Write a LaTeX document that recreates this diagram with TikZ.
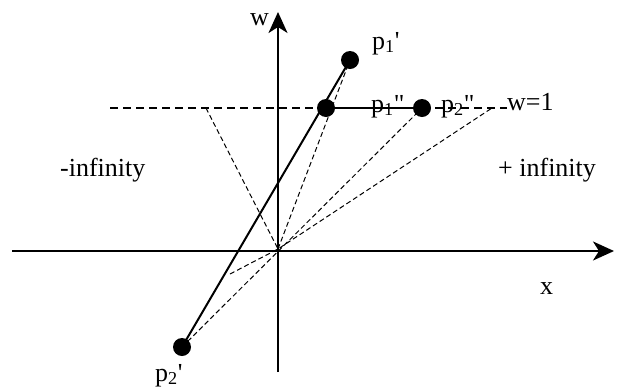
\documentclass[tikz,border=0pt]{standalone}
\usepackage{fontspec}
\setmainfont{Liberation Serif}
\usetikzlibrary{arrows.meta}
\begin{document}
\begin{tikzpicture}[x=1pt,y=-1pt,
  lbl/.style={inner sep=0pt, anchor=base west, font=\fontsize{26}{30}\selectfont},
  dot/.style={circle, fill=black, inner sep=0pt, minimum size=18pt},
  axis/.style={line width=2pt, -{Stealth[length=21pt,width=19pt,inset=6pt]}},
  proj/.style={line width=1pt, dash pattern=on 5pt off 3pt},
  wline/.style={line width=1.5pt, dash pattern=on 8pt off 5pt},
  seg/.style={line width=2pt}]
\useasboundingbox (0,0) rectangle (623,389);
% coordinates
\coordinate (O) at (278,249);
\coordinate (xs) at (12,251);
\coordinate (xe) at (614,251);
\coordinate (ys) at (278,372);
\coordinate (ye) at (278,12);
\coordinate (wl) at (110,108);
\coordinate (wr) at (507,108);
\coordinate (a) at (206,108);
\coordinate (b) at (492,108);
\coordinate (c) at (230,274);
% points
\node[dot] (p1p) at (350,60) {};
\node[dot] (p1pp) at (326,108) {};
\node[dot] (p2pp) at (422,108) {};
\node[dot] (p2p) at (182,347) {};
% axes
\draw[axis] (xs) -- (xe);
\draw[axis] (ys) -- (ye);
% w=1 line
\draw[wline] (wl) -- (wr);
% projection lines
\draw[proj] (a) -- (O);
\draw[proj] (O) -- (p1p.center);
\draw[proj] (p2p.center) -- (p2pp.center);
\draw[proj] (c) -- (O) -- (b);
% solid lines
\draw[seg] (p2p.center) -- (p1p.center);
\draw[seg] (p1pp.center) -- (p2pp.center);
% labels
\node[lbl] (lw) at (250,25) {w};
\node[lbl] (lx) at (540,294) {x};
\node[lbl] (lp1p) at (372,49) {p\textsubscript{1}\textquotesingle};
\node[lbl] (lp1pp) at (371,112) {p\textsubscript{1}\textquotedbl};
\node[lbl] (lp2pp) at (441,112) {p\textsubscript{2}\textquotedbl};
\node[lbl] (lw1) at (507,110) {w=1};
\node[lbl] (lp2p) at (155,381) {p\textsubscript{2}\textquotesingle};
\node[lbl] (lmi) at (60,176) {-infinity};
\node[lbl] (lpi) at (498,176) {+ infinity};
\end{tikzpicture}
\end{document}
